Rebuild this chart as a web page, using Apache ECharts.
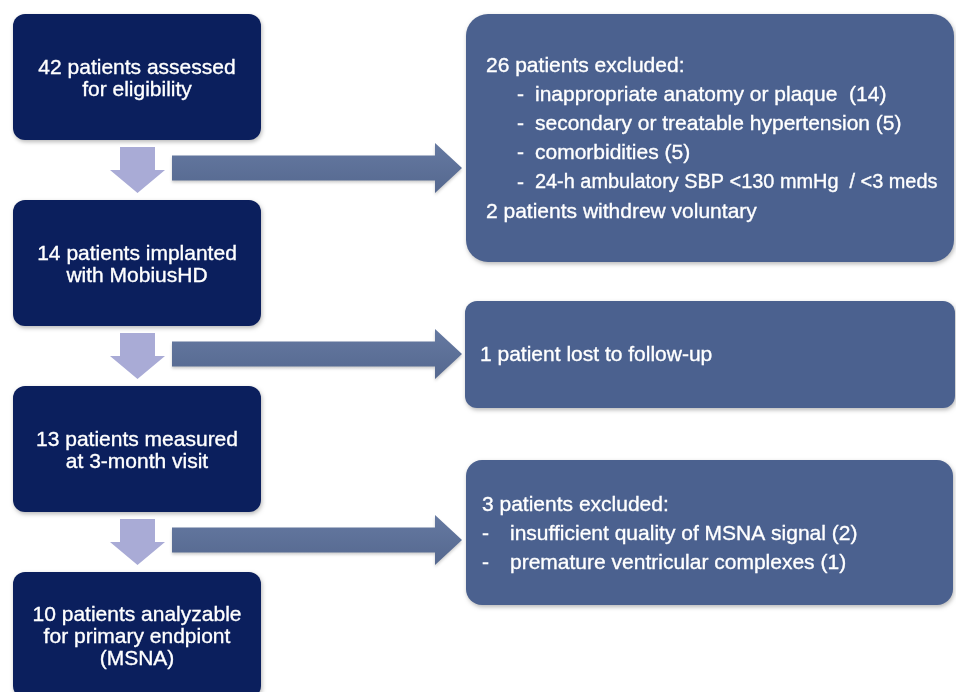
<!DOCTYPE html>
<html>
<head>
<meta charset="utf-8">
<script src="https://cdn.jsdelivr.net/npm/echarts@6/dist/echarts.min.js"></script>
<style>
  html, body { margin: 0; padding: 0; background: #ffffff; }
  #chart { width: 956px; height: 692px; }
</style>
</head>
<body>
<div id="chart"></div>
<script>
// ---- data ----
const stepText = [
  '42 patients assessed\nfor eligibility',
  '14 patients implanted\nwith MobiusHD',
  '13 patients measured\nat 3-month visit',
  '10 patients analyzable\nfor primary endpiont\n(MSNA)'
];
const exclusion1 = [
  '26 patients excluded:',
  '- inappropriate anatomy or plaque  (14)',
  '- secondary or treatable hypertension (5)',
  '- comorbidities (5)',
  '- 24-h ambulatory SBP <130 mmHg  / <3 meds',
  '2 patients withdrew voluntary'
];
const exclusion2 = [
  '1 patient lost to follow-up'
];
const exclusion3 = [
  '3 patients excluded:',
  '- insufficient quality of MSNA signal (2)',
  '- premature ventricular complexes (1)'
];
const exclusionText = [exclusion1, exclusion2, exclusion3];

// ---- layout (canvas units via axes) ----
const ROW = 186;
const LEFT = { x0: 13, x1: 261, top: 14, h: 126, r: 12 };
const DOWN = { sx0: 120, sx1: 155, hx0: 110, hx1: 165, sTop: 147, hTop: 170, tip: 193 };
const RIGHT_ARROW = { x0: 172, hx: 435, tip: 462, cy: 168, sh: 12.5, hh: 25 };
const rightLayout = [
  { x0: 466, x1: 954, top: 14, bottom: 262, r: 22, titleX: 486, dashX: 517, textX: 535, y0: 66, gap: 29.2 },
  { x0: 465, x1: 955, top: 301, bottom: 408, r: 12, titleX: 480, dashX: 480, textX: 505, y0: 355, gap: 29 },
  { x0: 466, x1: 953, top: 460, bottom: 605, r: 16, titleX: 482, dashX: 482, textX: 510, y0: 505, gap: 29 }
];
const FONT_FAMILY = '"Liberation Sans", Arial, sans-serif';
const FONT_SIZE = 21;
const RIGHT_PAD = 16;
const shadow = { shadowBlur: 4, shadowOffsetX: 1, shadowOffsetY: 2, shadowColor: 'rgba(0,0,0,0.28)' };

const measureCtx = document.createElement('canvas').getContext('2d');
function fitFont(text, maxW) {
  let size = FONT_SIZE;
  measureCtx.font = size + 'px ' + FONT_FAMILY;
  const w = measureCtx.measureText(text).width;
  if (w > maxW) size = Math.floor(size * maxW / w * 10) / 10;
  return size + 'px ' + FONT_FAMILY;
}
const FONT = FONT_SIZE + 'px ' + FONT_FAMILY;

const chart = echarts.init(document.getElementById('chart'), null, { renderer: 'canvas' });

function textEl(text, x, y, font, align) {
  return {
    type: 'text',
    style: {
      text: text, x: x, y: y, fill: '#ffffff', font: font,
      stroke: '#ffffff', lineWidth: 0.35,
      align: align, verticalAlign: 'middle', textAlign: align, textVerticalAlign: 'middle',
      lineHeight: 22
    }
  };
}

function renderItem(params, api) {
  const i = params.dataIndex;
  const P = (x, y) => api.coord([x, y]);
  const children = [];

  // left step box
  const lt = LEFT.top + ROW * i;
  const a = P(LEFT.x0, lt), b = P(LEFT.x1, lt + LEFT.h);
  children.push({
    type: 'rect',
    shape: { x: a[0], y: a[1], width: b[0] - a[0], height: b[1] - a[1], r: LEFT.r },
    style: Object.assign({ fill: '#0b1f5d' }, shadow)
  });
  const c = P((LEFT.x0 + LEFT.x1) / 2, lt + LEFT.h / 2 + 2.5);
  children.push(textEl(stepText[i], c[0], c[1], FONT, 'center'));

  if (i < exclusionText.length) {
    // down arrow
    const o = ROW * i;
    const dpts = [
      [DOWN.sx0, DOWN.sTop + o], [DOWN.sx1, DOWN.sTop + o], [DOWN.sx1, DOWN.hTop + o],
      [DOWN.hx1, DOWN.hTop + o], [(DOWN.hx0 + DOWN.hx1) / 2, DOWN.tip + o],
      [DOWN.hx0, DOWN.hTop + o], [DOWN.sx0, DOWN.hTop + o]
    ].map(p => P(p[0], p[1]));
    children.push({ type: 'polygon', shape: { points: dpts }, style: { fill: '#a9abd6' } });

    // right arrow
    const cy = RIGHT_ARROW.cy + o;
    const rpts = [
      [RIGHT_ARROW.x0, cy - RIGHT_ARROW.sh], [RIGHT_ARROW.hx, cy - RIGHT_ARROW.sh],
      [RIGHT_ARROW.hx, cy - RIGHT_ARROW.hh], [RIGHT_ARROW.tip, cy],
      [RIGHT_ARROW.hx, cy + RIGHT_ARROW.hh], [RIGHT_ARROW.hx, cy + RIGHT_ARROW.sh],
      [RIGHT_ARROW.x0, cy + RIGHT_ARROW.sh]
    ].map(p => P(p[0], p[1]));
    children.push({
      type: 'polygon', shape: { points: rpts },
      style: {
        fill: new echarts.graphic.LinearGradient(0, 0, 0, 1, [
          { offset: 0, color: '#6579a1' }, { offset: 1, color: '#55688f' }
        ]),
        shadowBlur: 3, shadowOffsetY: 2, shadowColor: 'rgba(0,0,0,0.2)'
      }
    });

    // right exclusion box
    const L = rightLayout[i];
    const ra = P(L.x0, L.top), rb = P(L.x1, L.bottom);
    children.push({
      type: 'rect',
      shape: { x: ra[0], y: ra[1], width: rb[0] - ra[0], height: rb[1] - ra[1], r: L.r },
      style: Object.assign({ fill: '#4b618f' }, shadow)
    });
    exclusionText[i].forEach((line, k) => {
      const y = L.y0 + L.gap * k;
      if (line.startsWith('- ')) {
        const dp = P(L.dashX, y), tp = P(L.textX, y), ep = P(L.x1 - RIGHT_PAD, y);
        const body = line.slice(2);
        children.push(textEl('-', dp[0], dp[1], FONT, 'left'));
        children.push(textEl(body, tp[0], tp[1], fitFont(body, ep[0] - tp[0]), 'left'));
      } else {
        const tp = P(L.titleX, y), ep = P(L.x1 - RIGHT_PAD, y);
        children.push(textEl(line, tp[0], tp[1], fitFont(line, ep[0] - tp[0]), 'left'));
      }
    });
  }
  return { type: 'group', children };
}

chart.setOption({
  animation: false,
  backgroundColor: '#ffffff',
  grid: { left: 0, right: 0, top: 0, bottom: 0 },
  xAxis: { type: 'value', min: 0, max: 956, show: false },
  yAxis: { type: 'value', min: 0, max: 692, inverse: true, show: false },
  series: [{
    type: 'custom',
    coordinateSystem: 'cartesian2d',
    renderItem: renderItem,
    clip: false,
    data: stepText.map((t, i) => [i, i])
  }]
});
</script>
</body>
</html>
